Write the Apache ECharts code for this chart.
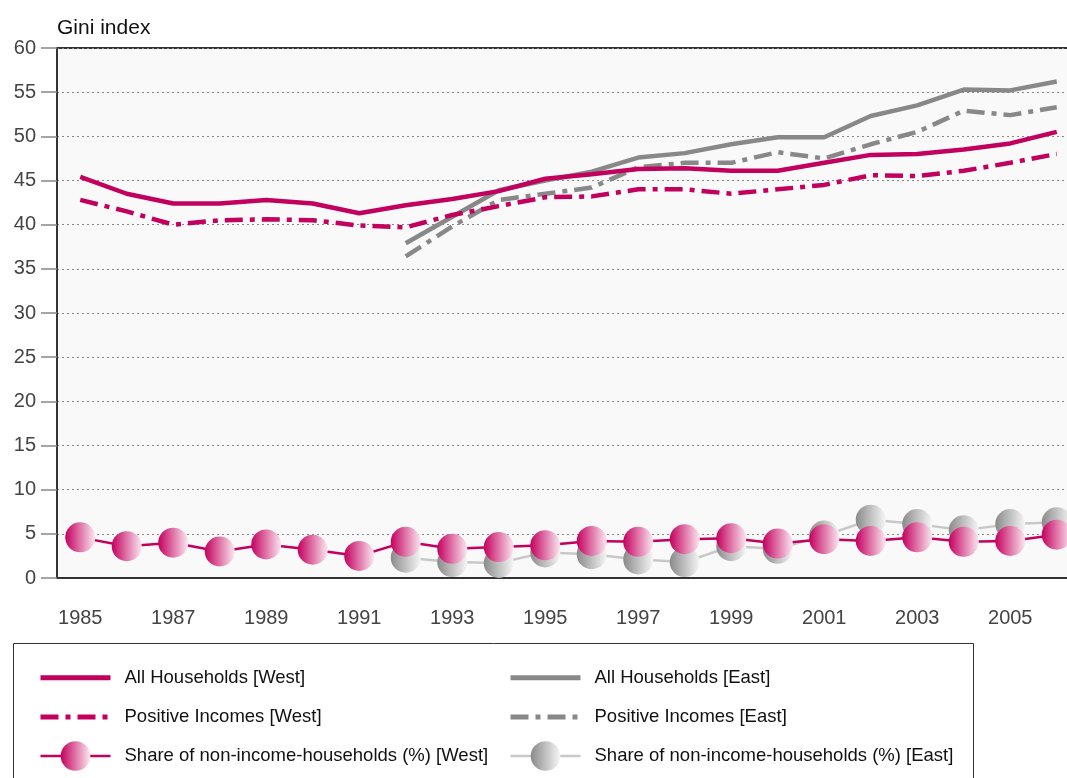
<!DOCTYPE html>
<html>
<head>
<meta charset="utf-8">
<script src="https://cdn.jsdelivr.net/npm/echarts@6/dist/echarts.min.js"></script>
<style>
  html, body { margin: 0; padding: 0; background: #fff; overflow: hidden; }
  /* the plot runs past the right edge of the window, as in the source picture */
  #chart { width: 1081px; height: 778px; }
</style>
</head>
<body>
<div id="chart"></div>
<script>
var years = ['1985', '1986', '1987', '1988', '1989', '1990', '1991', '1992', '1993', '1994', '1995',
  '1996', '1997', '1998', '1999', '2000', '2001', '2002', '2003', '2004', '2005', '2006'];

var allWest = [45.4, 43.5, 42.4, 42.4, 42.8, 42.4, 41.3, 42.2, 42.9, 43.8, 45.2,
  45.7, 46.3, 46.4, 46.1, 46.1, 47.0, 47.9, 48.0, 48.5, 49.2, 50.5];
var posWest = [42.8, 41.5, 40.0, 40.5, 40.6, 40.5, 39.9, 39.7, 41.1, 42.1, 43.1,
  43.2, 44.0, 44.0, 43.5, 44.0, 44.5, 45.6, 45.5, 46.1, 47.0, 48.0];
var allEast = [null, null, null, null, null, null, null, 37.9, 40.9, 43.9, 45.0,
  46.0, 47.6, 48.1, 49.1, 49.9, 49.9, 52.3, 53.5, 55.3, 55.2, 56.2];
var posEast = [null, null, null, null, null, null, null, 36.4, 39.8, 42.8, 43.5,
  44.2, 46.5, 47.0, 47.0, 48.2, 47.5, 49.1, 50.5, 52.9, 52.4, 53.3];
var shareWest = [4.6, 3.6, 4.0, 3.0, 3.8, 3.2, 2.5, 4.1, 3.3, 3.5, 3.7,
  4.2, 4.1, 4.4, 4.5, 3.9, 4.4, 4.2, 4.6, 4.1, 4.2, 4.9];
var shareEast = [null, null, null, null, null, null, null, 2.3, 1.8, 1.7, 2.9,
  2.7, 2.1, 1.8, 3.6, 3.3, 4.8, 6.6, 6.1, 5.4, 6.1, 6.3];

var names = {
  allW: 'All Households [West]',
  posW: 'Positive Incomes [West]',
  shareW: 'Share of non-income-households (%) [West]',
  allE: 'All Households [East]',
  posE: 'Positive Incomes [East]',
  shareE: 'Share of non-income-households (%) [East]'
};

var magenta = '#c2005d';
var gray = '#888888';
var font = 'Liberation Sans, Arial, sans-serif';
var dashDot = [18, 7, 5, 7];

var myChart = echarts.init(document.getElementById('chart'));

// legend entries: thick line without symbol for the Gini lines, thin line with ball for the shares
function lineItem(name) {
  return { name: name, itemStyle: { opacity: 0 }, lineStyle: { width: 5 } };
}
function ballItem(name) {
  return { name: name, lineStyle: { width: 2.5 } };
}

var legendBase = {
  orient: 'vertical',
  top: 663,
  padding: 0,
  itemWidth: 70,
  itemHeight: 37,
  itemGap: 9.5,
  textStyle: { fontFamily: font, fontSize: 18.5, color: '#111', padding: [0, 0, 0, 9] }
};

var option = {
  animation: false,
  textStyle: { fontFamily: font },
  title: {
    text: 'Gini index',
    left: 52,
    top: 13,
    textStyle: { fontFamily: font, fontSize: 21, fontWeight: 'normal', color: '#111' }
  },
  legend: [
    Object.assign({}, legendBase, { left: 38, data: [lineItem(names.allW), lineItem(names.posW), ballItem(names.shareW)] }),
    Object.assign({}, legendBase, { left: 508, data: [lineItem(names.allE), lineItem(names.posE), ballItem(names.shareE)] })
  ],
  graphic: [{
    type: 'rect',
    z: -1,
    shape: { x: 13.5, y: 643.5, width: 960, height: 200 },
    style: { fill: '#fff', stroke: '#333', lineWidth: 1 }
  }],
  grid: {
    left: 57,
    top: 48,
    right: 1,
    bottom: 200,
    show: true,
    backgroundColor: '#f9f9f9',
    borderColor: '#333',
    borderWidth: 2
  },
  xAxis: {
    type: 'category',
    data: years,
    boundaryGap: true,
    axisLine: { lineStyle: { color: '#333', width: 2 } },
    axisTick: { alignWithLabel: true, interval: 0, length: 16, lineStyle: { color: '#888', width: 1.5 } },
    axisLabel: { interval: 1, margin: 30, fontSize: 20, color: '#444', fontFamily: font },
    splitLine: { show: false }
  },
  yAxis: {
    type: 'value',
    min: 0,
    max: 60,
    interval: 5,
    axisLine: { show: true, lineStyle: { color: '#333', width: 2 } },
    axisTick: { show: true, length: 16, lineStyle: { color: '#888', width: 1.5 } },
    axisLabel: { margin: 21, fontSize: 20, color: '#444', fontFamily: font },
    splitLine: { show: true, lineStyle: { color: '#888', type: [2, 3], width: 1 } }
  },
  series: [
    {
      name: names.allE, type: 'line', data: allEast, showSymbol: false, symbol: 'none',
      lineStyle: { color: gray, width: 4.5 }, itemStyle: { color: gray }
    },
    {
      name: names.posE, type: 'line', data: posEast, showSymbol: false, symbol: 'none',
      lineStyle: { color: gray, width: 4.5, type: dashDot }, itemStyle: { color: gray }
    },
    {
      name: names.allW, type: 'line', data: allWest, showSymbol: false, symbol: 'none',
      lineStyle: { color: magenta, width: 4.5 }, itemStyle: { color: magenta }
    },
    {
      name: names.posW, type: 'line', data: posWest, showSymbol: false, symbol: 'none',
      lineStyle: { color: magenta, width: 4.5, type: dashDot }, itemStyle: { color: magenta }
    },
    {
      name: names.shareE, type: 'line', data: shareEast, symbol: 'circle', symbolSize: 30,
      lineStyle: { color: '#c8c8c8', width: 2.5 },
      itemStyle: {
        color: new echarts.graphic.LinearGradient(0, 0, 1, 0, [
          { offset: 0, color: '#8a8a8a' },
          { offset: 1, color: '#f6f6f6' }
        ])
      }
    },
    {
      name: names.shareW, type: 'line', data: shareWest, symbol: 'circle', symbolSize: 30,
      lineStyle: { color: magenta, width: 2.5 },
      itemStyle: {
        color: new echarts.graphic.LinearGradient(0, 0, 1, 0, [
          { offset: 0, color: '#c4005e' },
          { offset: 1, color: '#fbe8f1' }
        ])
      }
    }
  ]
};

myChart.setOption(option);

window.onresize = function () {
  myChart.resize();
};
</script>
</body>
</html>
